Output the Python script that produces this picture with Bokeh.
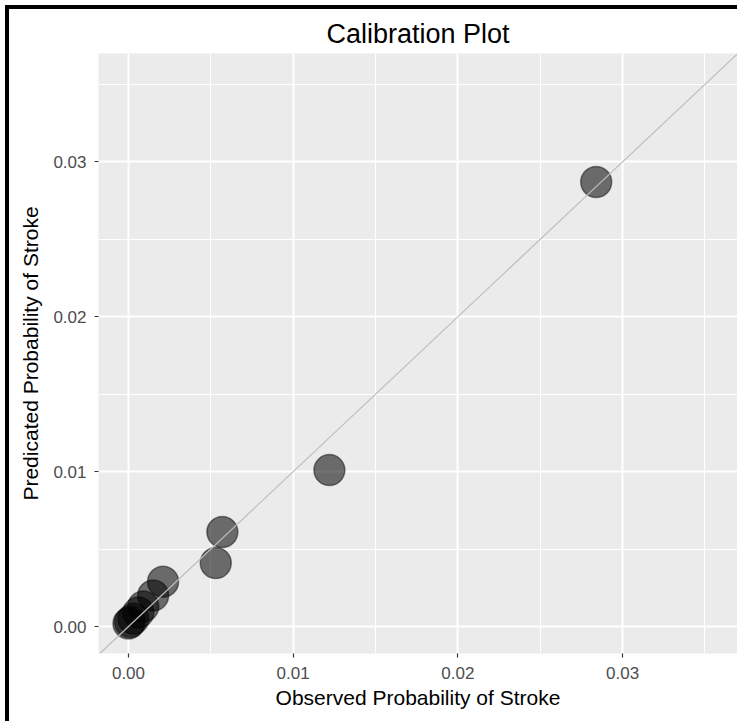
from bokeh.plotting import figure
from bokeh.models import FixedTicker, Slope, PrintfTickFormatter, Range1d
from bokeh.embed import file_html
from bokeh.resources import INLINE

# Data
x_obs = [0.0000, 0.0001, 0.0003, 0.0006, 0.0009, 0.0015, 0.0021, 0.0053, 0.0057, 0.0122, 0.0284]
y_pred = [0.0002, 0.0003, 0.0005, 0.0009, 0.0013, 0.0020, 0.0029, 0.0041, 0.0061, 0.0101, 0.0287]
major_ticks = [0.0, 0.01, 0.02, 0.03]
minor_ticks = [-0.005, 0.005, 0.015, 0.025, 0.035]

FONT = "Liberation Sans"

p = figure(width=737, height=721, output_backend="svg", toolbar_location=None,
           x_range=Range1d(-0.00182, 0.03698), y_range=Range1d(-0.00174, 0.0370),
           min_border_left=98, min_border_right=0, min_border_top=53, min_border_bottom=68,
           title="Calibration Plot",
           x_axis_label="Observed Probability of Stroke",
           y_axis_label="Predicated Probability of Stroke")

p.background_fill_color = "#ebebeb"
p.border_fill_color = None
p.outline_line_color = None
# screenshot frame: black bar on top and left edges
p.styles = {"box-shadow": "inset 5px 5px 0 0 white, inset 9px 9px 0 0 black",
            "background-color": "white"}

p.title.align = "center"
p.title.text_font = FONT
p.title.text_font_size = "27px"
p.title.text_font_style = "normal"
p.title.text_color = "black"
p.title.standoff = 9
p.title.offset = 0

for axis in (p.xaxis[0], p.yaxis[0]):
    axis.ticker = FixedTicker(ticks=major_ticks, minor_ticks=minor_ticks)
    axis.formatter = PrintfTickFormatter(format="%.2f")
    axis.axis_line_color = None
    axis.major_tick_line_color = "#333333"
    axis.major_tick_line_width = 1.2
    axis.major_tick_out = 4
    axis.major_tick_in = 0
    axis.minor_tick_line_color = None
    axis.major_label_text_color = "#4d4d4d"
    axis.major_label_text_font = FONT
    axis.major_label_text_font_size = "17px"
    axis.axis_label_text_font = FONT
    axis.axis_label_text_font_size = "21px"
    axis.axis_label_text_font_style = "normal"
    axis.axis_label_text_color = "black"

p.xaxis[0].major_label_standoff = 9
p.xaxis[0].axis_label_standoff = 4
p.yaxis[0].major_label_standoff = 8
p.yaxis[0].axis_label_standoff = 8

for grid in (p.xgrid[0], p.ygrid[0]):
    grid.grid_line_color = "white"
    grid.grid_line_width = 2
    grid.minor_grid_line_color = "white"
    grid.minor_grid_line_width = 1

p.scatter(x_obs, y_pred, size=31, fill_color="black", fill_alpha=0.55,
          line_color="black", line_alpha=0.45, line_width=1.5)

p.add_layout(Slope(gradient=1, y_intercept=0, line_color="#bdbdbd", line_width=1.2))

open("out.html", "w").write(file_html(p, INLINE))
